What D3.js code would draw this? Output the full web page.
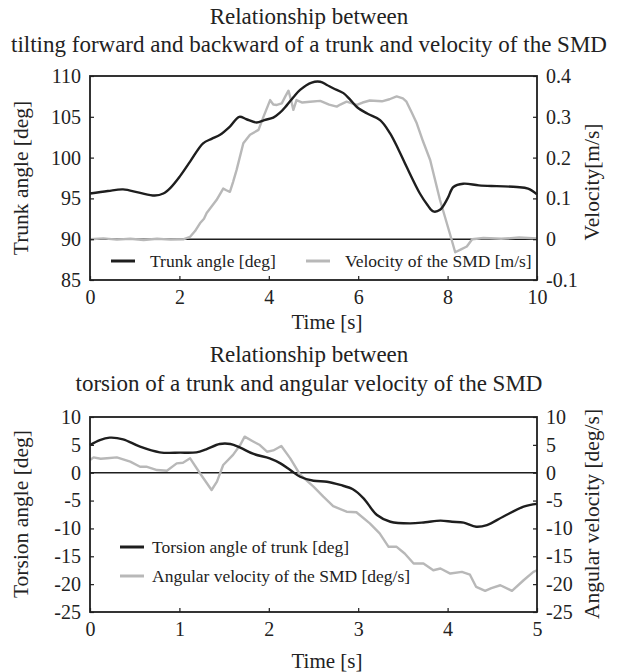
<!DOCTYPE html>
<html><head><meta charset="utf-8">
<script src="https://cdn.jsdelivr.net/npm/d3@7"></script>
<style>
body{margin:0;background:#fff;}
svg text{font-family:"Times New Roman","Liberation Serif","DejaVu Serif",serif !important;fill:#222;}
</style></head>
<body><svg id="c" width="618" height="672"></svg>
<script>
// ---- top chart data ----
const trunkTime = [0,0.4,0.74,1.1,1.45,1.64,1.8,2.01,2.25,2.53,2.72,2.91,3.13,3.34,3.5,3.73,3.9,4.1,4.25,4.4,4.55,4.70,4.96,5.15,5.3,5.44,5.67,5.82,5.97,6.2,6.49,6.71,6.9,7.08,7.38,7.55,7.68,7.83,8.0,8.13,8.35,8.7,9.1,9.55,9.8,10];
const trunkAngle = [95.6,95.9,96.1,95.7,95.35,95.6,96.3,97.7,99.6,101.75,102.3,102.8,103.8,105.0,104.7,104.3,104.6,104.9,105.5,106.4,107.4,108.3,109.2,109.3,108.9,108.5,107.9,107.1,106.2,105.4,104.6,103.0,101.0,98.9,95.6,94.2,93.4,93.6,95.0,96.4,96.8,96.6,96.5,96.4,96.2,95.5];
const velTime = [0,0.3,0.6,0.9,1.2,1.5,1.8,2.1,2.24,2.35,2.46,2.55,2.61,2.72,2.83,2.98,3.05,3.13,3.2,3.28,3.43,3.58,3.77,3.88,4.03,4.1,4.18,4.29,4.37,4.44,4.5,4.55,4.62,4.75,4.92,5.15,5.35,5.52,5.6,5.74,5.97,6.1,6.26,6.53,6.7,6.86,7.0,7.08,7.2,7.31,7.45,7.61,7.83,8.05,8.17,8.3,8.43,8.55,8.8,9.2,9.6,10];
const velocity = [0,0.002,-0.001,0.001,-0.002,0.001,-0.001,0,0.006,0.02,0.039,0.05,0.064,0.08,0.096,0.124,0.12,0.116,0.14,0.17,0.235,0.256,0.268,0.30,0.341,0.33,0.329,0.333,0.35,0.364,0.34,0.317,0.341,0.335,0.337,0.339,0.33,0.325,0.33,0.337,0.329,0.335,0.34,0.338,0.343,0.35,0.345,0.337,0.31,0.284,0.24,0.194,0.096,0.014,-0.032,-0.025,-0.018,0,0.003,0.001,0.004,0.002];
const topXTicks = [0,2,4,6,8,10];
const topLeftTicks = [85,90,95,100,105,110];
const topRightTicks = [-0.1,0,0.1,0.2,0.3,0.4];

// ---- bottom chart data ----
const torsTime = [0,0.11,0.22,0.37,0.56,0.78,1.01,1.19,1.30,1.45,1.57,1.68,1.83,2.01,2.13,2.24,2.35,2.50,2.65,2.80,2.94,3.06,3.21,3.36,3.58,3.75,3.92,4.05,4.18,4.32,4.44,4.62,4.85,5.0];
const torsion = [4.97,5.87,6.29,6.0,4.67,3.66,3.6,3.66,4.2,5.15,5.15,4.5,3.36,2.58,1.68,0.48,-0.72,-1.44,-1.62,-2.2,-2.97,-4.6,-7.6,-8.8,-9.1,-8.9,-8.6,-8.8,-8.97,-9.7,-9.4,-7.9,-6.1,-5.6];
const angTime = [0,0.04,0.12,0.19,0.30,0.45,0.56,0.63,0.75,0.86,0.97,1.04,1.12,1.23,1.36,1.42,1.49,1.60,1.68,1.73,1.83,1.90,1.98,2.05,2.14,2.24,2.35,2.50,2.61,2.72,2.87,2.98,3.13,3.24,3.34,3.43,3.52,3.62,3.73,3.84,3.92,4.03,4.16,4.25,4.32,4.42,4.49,4.59,4.72,4.85,4.96,5.0];
const angVel = [2.28,2.76,2.5,2.6,2.76,1.98,1.08,1.08,0.48,0.36,1.68,1.8,2.58,-0.1,-3.1,-1.6,1.38,3.2,4.97,6.47,5.57,4.97,3.77,4.0,4.8,2.58,-0.36,-2.5,-4.3,-6.0,-7.0,-7.1,-9.1,-10.9,-13.3,-13.3,-14.5,-16.3,-16.3,-17.5,-17.2,-18.1,-17.8,-18.3,-20.5,-21.2,-20.7,-20.2,-21.2,-19.3,-17.8,-17.5];
const botXTicks = [0,1,2,3,4,5];
const botYTicks = [-25,-20,-15,-10,-5,0,5,10];

const svg = d3.select("#c");
const BLACK = "#1e1e1e", GRAY = "#b8b8b8";
const FONT = '"Times New Roman","Liberation Serif","DejaVu Serif",serif';

function panel(o){
  const g = svg.append("g");
  const x = d3.scaleLinear().domain(o.xDomain).range([90,537]);
  const y = d3.scaleLinear().domain(o.yDomain).range([o.bottom,o.top]);
  const y2 = d3.scaleLinear().domain(o.y2Domain).range([o.bottom,o.top]);
  o.title.forEach((t,i)=>g.append("text").attr("x",309).attr("y",o.titleY[i]).attr("text-anchor","middle").style("font-size","23px").text(t));
  g.append("line").attr("x1",x(o.xDomain[0])).attr("x2",x(o.xDomain[1])).attr("y1",y(o.zero)).attr("y2",y(o.zero)).attr("stroke",BLACK).attr("stroke-width",1.6);
  const lineG = d3.line().x(d=>x(d[0])).y(d=>y2(d[1])).curve(d3.curveLinear);
  g.append("path").attr("d",lineG(d3.zip(o.gx,o.gy))).attr("fill","none").attr("stroke",GRAY).attr("stroke-width",2.4).attr("stroke-linejoin","round");
  const lineB = d3.line().x(d=>x(d[0])).y(d=>y(d[1])).curve(d3.curveCatmullRom.alpha(0.5));
  g.append("path").attr("d",lineB(d3.zip(o.bx,o.by))).attr("fill","none").attr("stroke",BLACK).attr("stroke-width",2.4);
  const ax = g.append("g").attr("transform",`translate(0,${o.bottom})`).call(d3.axisBottom(x).tickValues(o.xTicks).tickSize(-4).tickPadding(10).tickFormat(d3.format("d")));
  const al = g.append("g").attr("transform","translate(90,0)").call(d3.axisLeft(y).tickValues(o.yTicks).tickSize(-4).tickPadding(9).tickFormat(d=>String(d)));
  const ar = g.append("g").attr("transform","translate(537,0)").call(d3.axisRight(y2).tickValues(o.y2Ticks).tickSize(-4).tickPadding(9).tickFormat(d=>String(d)));
  [ax,al,ar].forEach(a=>{a.attr("font-family",FONT);a.select(".domain").remove();a.selectAll("line").attr("stroke",BLACK).attr("stroke-width",1.2);
    a.selectAll("text").style("font-size","20px").attr("fill","#222");});
  g.append("rect").attr("x",90).attr("y",o.top).attr("width",447).attr("height",o.bottom-o.top).attr("fill","none").attr("stroke",BLACK).attr("stroke-width",1.8);
  g.append("text").attr("transform",`translate(28,${o.leftTitleY}) rotate(-90)`).attr("text-anchor","middle").style("font-size","21.5px").text(o.leftTitle);
  g.append("text").attr("transform",`translate(599,${o.rightTitleY}) rotate(-90)`).attr("text-anchor","middle").style("font-size","21.5px").text(o.rightTitle);
  g.append("text").attr("x",327).attr("y",o.xTitleY).attr("text-anchor","middle").style("font-size","21px").text("Time [s]");
  o.legend.forEach(l=>{
    g.append("line").attr("x1",l.x).attr("x2",l.x+24).attr("y1",l.y).attr("y2",l.y).attr("stroke",l.c).attr("stroke-width",3);
    g.append("text").attr("x",l.x+l.dx).attr("y",l.y+6).style("font-size","17.5px").text(l.t);
  });
}

panel({xDomain:[0,10],yDomain:[85,110],y2Domain:[-0.1,0.4],top:76,bottom:280,zero:90,
  title:["Relationship between","tilting forward and backward of a trunk and velocity of the SMD"],titleY:[24,52],
  bx:trunkTime,by:trunkAngle,gx:velTime,gy:velocity,
  xTicks:topXTicks,yTicks:topLeftTicks,y2Ticks:topRightTicks,
  leftTitle:"Trunk angle [deg]",leftTitleY:178,rightTitle:"Velocity[m/s]",rightTitleY:182,xTitleY:329,
  legend:[{x:111,y:261,dx:39,c:BLACK,t:"Trunk angle [deg]"},{x:306,y:261,dx:39,c:GRAY,t:"Velocity of the SMD [m/s]"}]});

panel({xDomain:[0,5],yDomain:[-25,10],y2Domain:[-25,10],top:417,bottom:612,zero:0,
  title:["Relationship between","torsion of a trunk and angular velocity of the SMD"],titleY:[362,391],
  bx:torsTime,by:torsion,gx:angTime,gy:angVel,
  xTicks:botXTicks,yTicks:botYTicks,y2Ticks:botYTicks,
  leftTitle:"Torsion angle [deg]",leftTitleY:514,rightTitle:"Angular velocity [deg/s]",rightTitleY:514,xTitleY:668,
  legend:[{x:120,y:547,dx:32,c:BLACK,t:"Torsion angle of trunk [deg]"},{x:120,y:576,dx:32,c:GRAY,t:"Angular velocity of the SMD [deg/s]"}]});
</script></body></html>
